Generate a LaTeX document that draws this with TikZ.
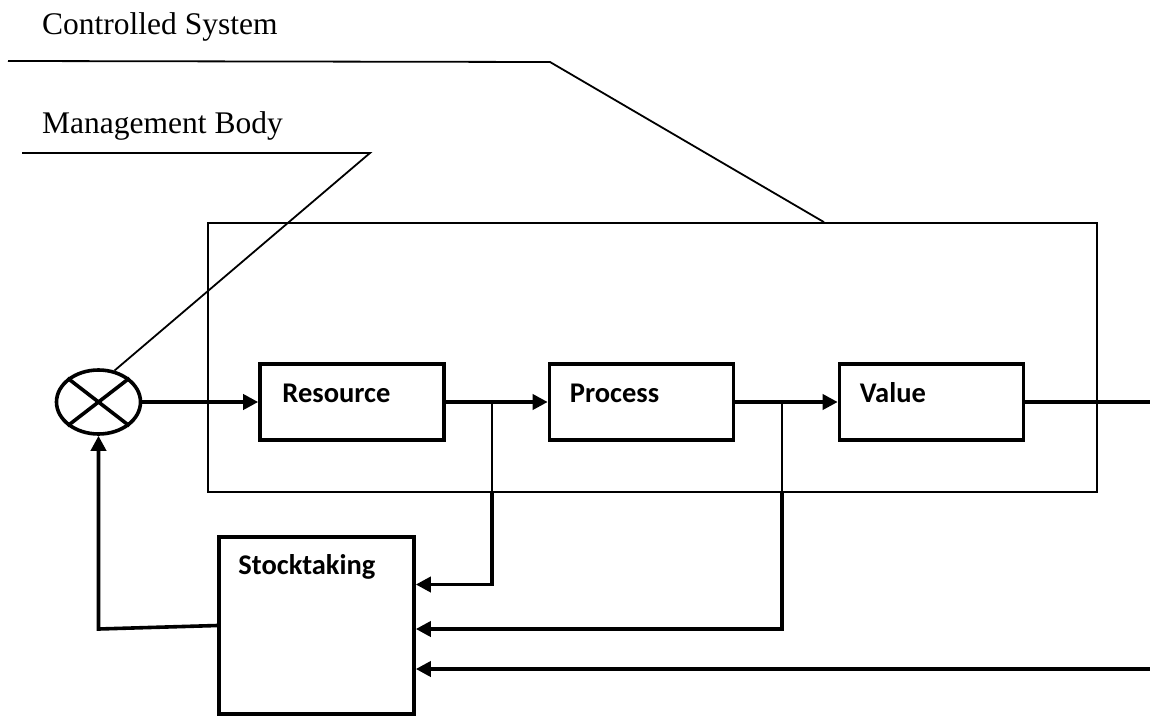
\documentclass[tikz,border=0pt]{standalone}
\usepackage{fontspec}
\setmainfont{Liberation Serif}
\newfontfamily\boxfont{Carlito}
\usetikzlibrary{arrows.meta,positioning,calc,shapes.geometric}
\tikzset{
  box/.style={draw, line width=3.6pt, minimum width=184pt, minimum height=76pt, inner sep=0pt},
  lbl/.style={font=\boxfont\bfseries\fontsize{28.5}{32}\selectfont, inner sep=0pt},
  ann/.style={font=\fontsize{31.5}{36}\selectfont, inner sep=0pt},
  flow/.style={-{Triangle[length=15pt,width=15pt]}, line width=3.6pt},
  wire/.style={line width=3.6pt},
  lead/.style={line width=1.8pt},
}

\begin{document}
\begin{tikzpicture}[x=1pt,y=-1pt]
\useasboundingbox (0,0) rectangle (1150,717);

% ------------------------------------------------------------ captions
\node[ann, anchor=base west] (csys) at (42,35) {Controlled System};
\node[ann, anchor=base west] (mbody) at (42,133) {Management Body};

% ------------------------------------------------------------ controlled system
\node[draw, line width=1.7pt, minimum width=889pt, minimum height=269pt] (sys) at (652.5,357.5) {};

\node[box] (res)  at (352,402) {};
\node[box] (proc) at (641.5,402) {};
\node[box] (val)  at (931.5,402) {};
\node[lbl, anchor=base west] (tres)  at ([xshift=24pt]res.west) {Resource};
\node[lbl, anchor=base west] (tproc) at ([xshift=22pt]proc.west) {Process};
\node[lbl, anchor=base west] (tval)  at ([xshift=22pt]val.west) {Value};

% ------------------------------------------------------------ management body
\node[ellipse, draw, line width=3.6pt, minimum width=84pt, minimum height=64pt, inner sep=0pt] (sum) at (98.5,402) {};
\draw[wire] (sum.north west) -- (sum.south east);
\draw[wire] (sum.north east) -- (sum.south west);

\node[box, minimum width=195pt, minimum height=177pt] (stock) at (316.5,625.5) {};
\node[lbl, anchor=base west] (tstock) at ($(stock.north west)+(21,39)$) {Stocktaking};

% ------------------------------------------------------------ forward path
\draw[flow] (sum.east) -- (res.west);
\draw[flow] (res) -- (proc);
\draw[flow] (proc) -- (val);
\coordinate (vout) at (1150,402);
\draw[wire] (val) -- (vout);

% ------------------------------------------------------------ feedback
\coordinate (b1) at (492,402);
\coordinate (b2) at (782,402);
\draw[line width=2.2pt] (b1) -- (b1 |- sys.south);
\draw[flow] (b1 |- sys.south) |- ([yshift=41pt]stock.east);
\draw[line width=2.2pt] (b2) -- (b2 |- sys.south);
\draw[flow] (b2 |- sys.south) |- ([yshift=-3.5pt]stock.east);
\coordinate (fin) at (1150,669);
\draw[flow] (fin) -- ([yshift=-43.5pt]stock.east);
\coordinate (ret) at (98.5,629);
\draw[flow] (stock.west) -- (ret) -- (sum.south);

% ------------------------------------------------------------ leaders
\coordinate (cs1) at (8,61);
\coordinate (cs2) at (550,62);
\coordinate (cs3) at (824,0);
\draw[lead] (cs1) -- (cs2) -- (cs3 |- sys.north);
\coordinate (mb1) at (22,153);
\coordinate (mb2) at (370,153);
\draw[lead] (mb1) -- (mb2) -- (sum.63);

\end{tikzpicture}
\end{document}
